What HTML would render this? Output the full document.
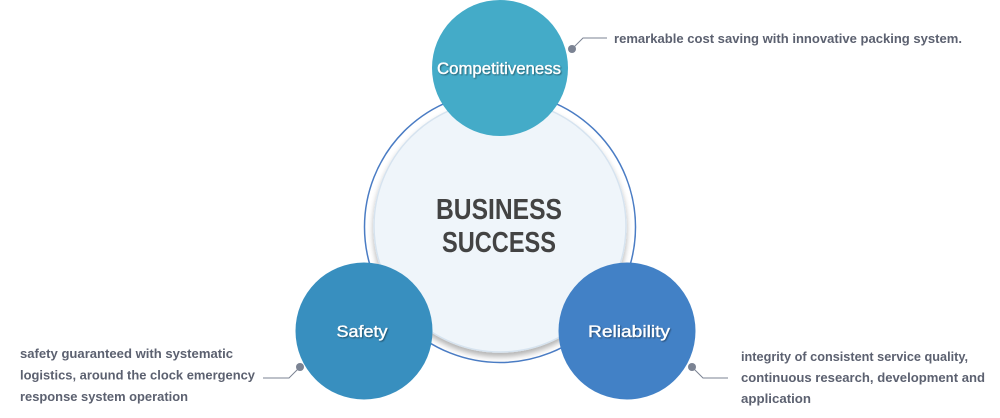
<!DOCTYPE html>
<html>
<head>
<meta charset="utf-8">
<style>
html,body{margin:0;padding:0;background:#fff;}
svg{display:block;}
text{font-family:"Liberation Sans",sans-serif;}
</style>
</head>
<body>
<svg width="1000" height="418" viewBox="0 0 1000 418" xmlns="http://www.w3.org/2000/svg">
  <defs>
    <filter id="sh" x="-20%" y="-20%" width="140%" height="140%">
      <feGaussianBlur in="SourceAlpha" stdDeviation="3"/>
      <feOffset dx="0" dy="4" result="b"/>
      <feComponentTransfer><feFuncA type="linear" slope="0.3"/></feComponentTransfer>
      <feMerge><feMergeNode/><feMergeNode in="SourceGraphic"/></feMerge>
    </filter>
    <filter id="ts" x="-10%" y="-30%" width="120%" height="160%">
      <feGaussianBlur in="SourceAlpha" stdDeviation="0.8"/>
      <feOffset dx="1" dy="1"/>
      <feComponentTransfer><feFuncA type="linear" slope="0.45"/></feComponentTransfer>
      <feMerge><feMergeNode/><feMergeNode in="SourceGraphic"/></feMerge>
    </filter>
  </defs>

  <!-- outer ring -->
  <circle cx="500" cy="227" r="135.5" fill="none" stroke="#4a7cc4" stroke-width="1.5"/>
  <!-- inner circle -->
  <circle cx="500" cy="226" r="126" fill="#eff5fa" stroke="#d6e3ef" stroke-width="1.5" filter="url(#sh)"/>

  <text x="499" y="219" font-size="29" font-weight="bold" fill="#434343" text-anchor="middle" textLength="126" lengthAdjust="spacingAndGlyphs">BUSINESS</text>
  <text x="499" y="252" font-size="29" font-weight="bold" fill="#434343" text-anchor="middle" textLength="114" lengthAdjust="spacingAndGlyphs">SUCCESS</text>

  <!-- top circle -->
  <circle cx="500" cy="68" r="68" fill="#44abc8"/>
  <text x="499" y="74" font-size="17" fill="#fff" stroke="#fff" stroke-width="0.35" text-anchor="middle" textLength="124" lengthAdjust="spacingAndGlyphs" filter="url(#ts)">Competitiveness</text>

  <!-- safety -->
  <circle cx="364" cy="331" r="68.5" fill="#388fbf"/>
  <text x="362" y="337" font-size="17" fill="#fff" stroke="#fff" stroke-width="0.35" text-anchor="middle" textLength="51" lengthAdjust="spacingAndGlyphs" filter="url(#ts)">Safety</text>

  <!-- reliability -->
  <circle cx="627" cy="331" r="68.5" fill="#4281c6"/>
  <text x="629" y="337" font-size="17" fill="#fff" stroke="#fff" stroke-width="0.35" text-anchor="middle" textLength="82" lengthAdjust="spacingAndGlyphs" filter="url(#ts)">Reliability</text>

  <!-- callout top -->
  <polyline points="572,49 583,38 607,38" fill="none" stroke="#7b8393" stroke-width="1"/>
  <circle cx="572" cy="49" r="4" fill="#7b8393"/>
  <text x="614" y="43" font-size="13" font-weight="bold" fill="#5c6170" textLength="348" lengthAdjust="spacingAndGlyphs">remarkable cost saving with innovative packing system.</text>

  <!-- callout safety -->
  <polyline points="300,367 289,378 263,378" fill="none" stroke="#7b8393" stroke-width="1"/>
  <circle cx="300" cy="367" r="4" fill="#7b8393"/>
  <text x="20" y="358" font-size="13" font-weight="bold" fill="#5c6170" textLength="213" lengthAdjust="spacingAndGlyphs">safety guaranteed with systematic</text>
  <text x="20" y="379.5" font-size="13" font-weight="bold" fill="#5c6170" textLength="235" lengthAdjust="spacingAndGlyphs">logistics, around the clock emergency</text>
  <text x="20" y="401" font-size="13" font-weight="bold" fill="#5c6170" textLength="168" lengthAdjust="spacingAndGlyphs">response system operation</text>

  <!-- callout reliability -->
  <polyline points="692,367 703,378 728,378" fill="none" stroke="#7b8393" stroke-width="1"/>
  <circle cx="692" cy="367" r="4" fill="#7b8393"/>
  <text x="741" y="361" font-size="13" font-weight="bold" fill="#5c6170" textLength="227" lengthAdjust="spacingAndGlyphs">integrity of consistent service quality,</text>
  <text x="741" y="382" font-size="13" font-weight="bold" fill="#5c6170" textLength="244" lengthAdjust="spacingAndGlyphs">continuous research, development and</text>
  <text x="741" y="403" font-size="13" font-weight="bold" fill="#5c6170" textLength="70" lengthAdjust="spacingAndGlyphs">application</text>
</svg>
</body>
</html>
